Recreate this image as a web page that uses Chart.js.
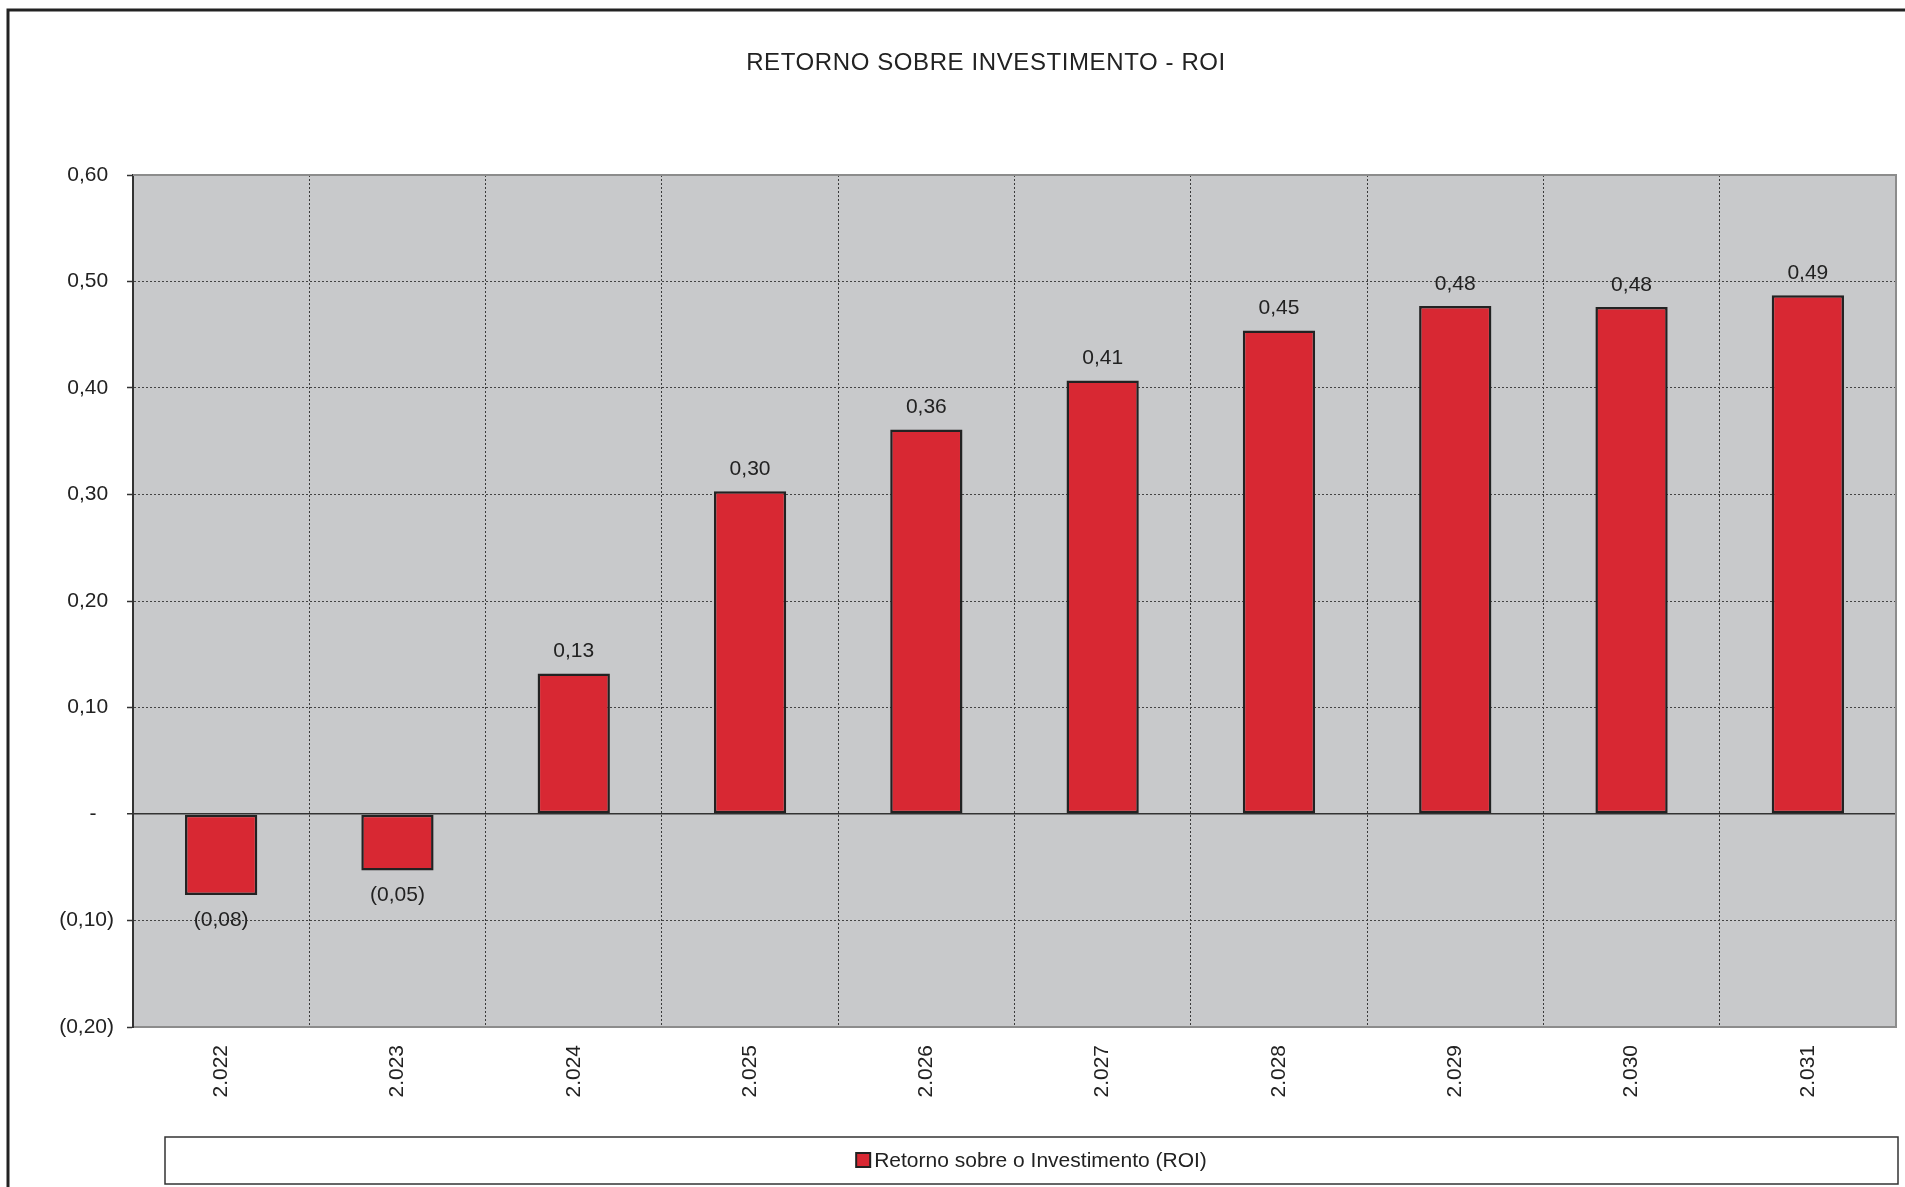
<!DOCTYPE html>
<html>
<head>
<meta charset="utf-8">
<title>ROI</title>
<script src="https://cdn.jsdelivr.net/npm/chart.js@4/dist/chart.umd.min.js"></script>
<style>
  body { margin: 0; background: #fff; }
  canvas { display: block; }
</style>
</head>
<body>
<canvas id="myChart" width="1905" height="1187"></canvas>
<script>
'use strict';

let years = ['2.022', '2.023', '2.024', '2.025', '2.026', '2.027', '2.028', '2.029', '2.030', '2.031'];
let roiValues = [-0.076, -0.053, 0.132, 0.303, 0.361, 0.407, 0.454, 0.477, 0.476, 0.487];
let seriesName = 'Retorno sobre o Investimento (ROI)';
let chartTitle = 'RETORNO SOBRE INVESTIMENTO - ROI';
let yMin = -0.2;
let yMax = 0.6;
let yStep = 0.1;

let fontName = '"Liberation Sans", Arial, Helvetica, sans-serif';
let barColor = '#d82833';
let lineColor = '#222222';

// excel style number: 0,60  (0,10)  -
function formatNumber(v, forAxis) {
  if (Math.abs(v) < 1e-9) {
    return forAxis ? '-\u2007 ' : '-';
  }
  let txt = Math.abs(v).toFixed(2).replace('.', ',');
  if (v < 0) {
    return '(' + txt + ')';
  }
  return forAxis ? txt + ' ' : txt;
}

let framePlugin = {
  id: 'frame',
  beforeDraw(chart) {
    let ctx = chart.ctx;
    let area = chart.chartArea;
    ctx.save();
    ctx.fillStyle = '#c8c9cb';
    ctx.fillRect(area.left, area.top, area.right - area.left, area.bottom - area.top);
    ctx.restore();
  },
  afterDatasetsDraw(chart) {
    let ctx = chart.ctx;
    let meta = chart.getDatasetMeta(0);
    ctx.save();
    ctx.font = '21px ' + fontName;
    ctx.fillStyle = lineColor;
    ctx.textAlign = 'center';
    ctx.textBaseline = 'middle';
    meta.data.forEach(function (bar, i) {
      let v = chart.data.datasets[0].data[i];
      let y = v >= 0 ? bar.y - 22 : bar.y + 25;
      ctx.fillText(formatNumber(v, false), bar.x, y);
    });
    ctx.restore();
  },
  afterDraw(chart) {
    let ctx = chart.ctx;
    let area = chart.chartArea;
    ctx.save();
    // plot border top / right
    ctx.strokeStyle = '#8c8c8c';
    ctx.lineWidth = 2;
    ctx.beginPath();
    ctx.moveTo(area.left, area.top);
    ctx.lineTo(area.right, area.top);
    ctx.lineTo(area.right, area.bottom);
    ctx.stroke();

    // outer frame
    ctx.strokeStyle = lineColor;
    ctx.lineWidth = 3;
    ctx.beginPath();
    ctx.moveTo(8, chart.height + 5);
    ctx.lineTo(8, 10);
    ctx.lineTo(chart.width + 5, 10);
    ctx.stroke();

    // title
    ctx.font = '24px ' + fontName;
    ctx.letterSpacing = '0.6px';
    ctx.fillStyle = lineColor;
    ctx.textAlign = 'center';
    ctx.textBaseline = 'middle';
    ctx.fillText(chartTitle, 986, 63);
    ctx.letterSpacing = '0px';

    // legend box
    ctx.lineWidth = 1.5;
    ctx.strokeStyle = '#333';
    ctx.strokeRect(165, 1137, 1733, 47);
    let ds = chart.data.datasets[0];
    ctx.font = '21px ' + fontName;
    let textW = ctx.measureText(ds.label).width;
    let startX = 165 + 1733 / 2 - (18 + textW) / 2;
    ctx.fillStyle = ds.backgroundColor;
    ctx.fillRect(startX, 1153, 14, 14);
    ctx.lineWidth = 2;
    ctx.strokeStyle = lineColor;
    ctx.strokeRect(startX, 1153, 14, 14);
    ctx.fillStyle = lineColor;
    ctx.textAlign = 'left';
    ctx.fillText(ds.label, startX + 18, 1161);
    ctx.restore();
  }
};

function chart() {
  let ctx = document.getElementById('myChart');
  let myChart = new Chart(ctx, {
    type: 'bar',
    data: {
      labels: years,
      datasets: [{
        label: seriesName,
        data: roiValues,
        backgroundColor: barColor,
        borderColor: lineColor,
        borderWidth: 2.5,
        borderSkipped: false,
        categoryPercentage: 1,
        barPercentage: 0.41
      }]
    },
    options: {
      responsive: false,
      animation: false,
      layout: {
        padding: { left: 8, right: 9, top: 175, bottom: 0 }
      },
      plugins: {
        legend: { display: false },
        title: { display: false },
        tooltip: { enabled: false }
      },
      scales: {
        x: {
          afterFit(scale) { scale.height = 160; },
          grid: {
            offset: true,
            color: '#3a3a3a',
            lineWidth: 1,
            drawTicks: false
          },
          border: {
            display: true,
            color: '#8c8c8c',
            width: 2,
            dash: [2, 2]
          },
          ticks: {
            autoSkip: false,
            minRotation: 90,
            maxRotation: 90,
            padding: 18,
            color: lineColor,
            font: { family: fontName, size: 21 }
          }
        },
        y: {
          min: yMin,
          max: yMax,
          afterFit(scale) { scale.width = 125; },
          grid: {
            color: function (c) {
              return c.tick && Math.abs(c.tick.value) < 1e-9 ? '#333' : '#444';
            },
            lineWidth: function (c) {
              return c.tick && Math.abs(c.tick.value) < 1e-9 ? 1.5 : 1;
            },
            tickColor: '#333',
            tickLength: 6,
            tickWidth: 1.5
          },
          border: {
            display: true,
            color: '#333',
            width: 2,
            dash: function (c) {
              return c.tick && Math.abs(c.tick.value) < 1e-9 ? [] : [2, 2];
            }
          },
          ticks: {
            stepSize: yStep,
            padding: 13,
            color: lineColor,
            font: { family: fontName, size: 21 },
            callback: function (value) {
              return formatNumber(value, true);
            }
          }
        }
      }
    },
    plugins: [framePlugin]
  });
  return myChart;
}

chart();
</script>
</body>
</html>
